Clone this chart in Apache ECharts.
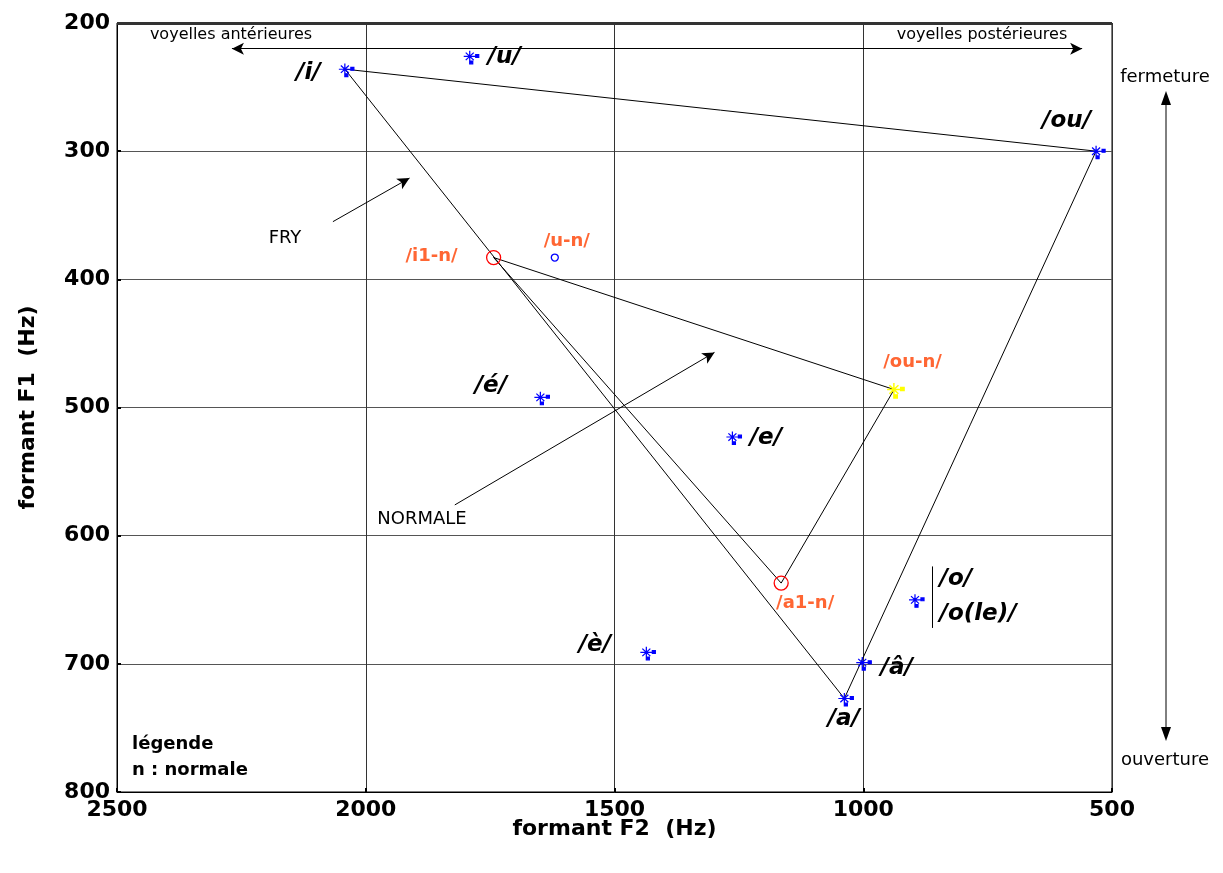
<!DOCTYPE html>
<html><head><meta charset="utf-8">
<script src="https://cdn.jsdelivr.net/npm/echarts@6/dist/echarts.min.js"></script>
<style>html,body{margin:0;padding:0;background:#fff}#c{width:1223px;height:873px}</style>
</head><body><div id="c"></div>
<script>
// ---- data ----
const fryNames = ['/i/', '/u/', '/ou/', '/é/', '/e/', '/è/', '/o/', '/â/', '/a/'];
const fryF2 = [2042, 1791, 532, 1649, 1263, 1436, 896, 1002, 1038];
const fryF1 = [236, 226, 300, 492, 523, 691, 650, 699, 727];
const normNames = ['/i1-n/', '/u-n/', '/ou-n/', '/a1-n/'];
const normF2 = [1743, 1620, 938, 1165];
const normF1 = [383, 383, 486, 637];
const fryTriangle = ['/i/', '/ou/', '/a/', '/i/'];
const normTriangle = ['/i1-n/', '/ou-n/', '/a1-n/', '/i1-n/'];
const xTicks = [500, 1000, 1500, 2000, 2500];
const yTicks = [200, 300, 400, 500, 600, 700, 800];

// ---- styles ----
const FONT = 'DejaVu Sans';
const ORANGE = '#ff6633';
const AST = 'path://M8,2L8,14M2,8L14,8M4,4L12,12M4,12L12,4M14,6h3v3h-3zM8,13h3v3h-3z';
const labelOffset = {
  '/i/': [-38, 3], '/u/': [33, 0], '/ou/': [-31, -31], '/é/': [-51, -12], '/e/': [32, 0],
  '/è/': [-53, -8], '/â/': [33, 4], '/a/': [-2, 20],
  '/i1-n/': [-62, -1], '/u-n/': [12, -16], '/ou-n/': [17, -28], '/a1-n/': [24, 20]
};
const noBorder = {textBorderWidth: 0, textBorderColor: 'rgba(0,0,0,0)', textShadowBlur: 0};
const normStyle = {
  '/i1-n/': {symbol: 'circle', symbolSize: 14, itemStyle: {opacity: 1, color: 'rgba(0,0,0,0)', borderColor: '#ff0000', borderWidth: 1.3}},
  '/u-n/': {symbol: 'circle', symbolSize: 7, itemStyle: {opacity: 1, color: 'rgba(0,0,0,0)', borderColor: '#0000ff', borderWidth: 1.3}},
  '/ou-n/': {symbol: AST, symbolSize: [17, 16], symbolOffset: [1.5, 1], itemStyle: {opacity: 1, color: '#ffff00', borderColor: '#ffff00', borderWidth: 1.4}},
  '/a1-n/': {symbol: 'circle', symbolSize: 14, itemStyle: {opacity: 1, color: 'rgba(0,0,0,0)', borderColor: '#ff0000', borderWidth: 1.3}}
};

const fryData = fryNames.map((n, i) => {
  const item = {name: n, value: [fryF2[i], fryF1[i]]};
  if (n === '/o/') {
    item.label = {formatter: '/o/\n/o(le)/', align: 'left', offset: [23, -4], lineHeight: 35};
  } else {
    item.label = {offset: labelOffset[n]};
  }
  return item;
});
const normData = normNames.map((n, i) => Object.assign({
  name: n, value: [normF2[i], normF1[i]], label: {offset: labelOffset[n]}
}, normStyle[n]));

function pt(name) {
  let i = fryNames.indexOf(name);
  if (i >= 0) return [fryF2[i], fryF1[i]];
  i = normNames.indexOf(name);
  return [normF2[i], normF1[i]];
}

const chart = echarts.init(document.getElementById('c'), null, {renderer: 'canvas'});
const txt = (x, y, text, size, weight, align) => ({
  type: 'text', x: x, y: y, silent: true,
  style: {text: text, fill: '#000', font: (weight || 'normal') + ' ' + size + 'px "' + FONT + '"',
    textAlign: align || 'center', textVerticalAlign: 'middle'}
});

chart.setOption({
  animation: false,
  backgroundColor: '#fff',
  grid: {left: 117, right: 111, top: 23, bottom: 81, show: true, borderColor: '#000', borderWidth: 1},
  xAxis: {
    type: 'value', inverse: true, min: xTicks[0], max: xTicks[xTicks.length - 1], interval: 500,
    name: 'formant F2  (Hz)', nameLocation: 'middle', nameGap: 26, nameMoveOverlap: false,
    nameTextStyle: {fontFamily: FONT, fontWeight: 'bold', fontSize: 22, color: '#000'},
    axisLine: {lineStyle: {color: '#000', width: 1}},
    axisTick: {inside: true, length: 4, lineStyle: {color: '#000', width: 2}},
    axisLabel: {fontFamily: FONT, fontWeight: 'bold', fontSize: 22, color: '#000', margin: 7,
      formatter: v => String(v)},
    splitLine: {lineStyle: {color: '#333', width: 1}}
  },
  yAxis: {
    type: 'value', inverse: true, min: yTicks[0], max: yTicks[yTicks.length - 1], interval: 100,
    name: 'formant F1  (Hz)', nameLocation: 'middle', nameGap: 78, nameMoveOverlap: false,
    nameTextStyle: {fontFamily: FONT, fontWeight: 'bold', fontSize: 22, color: '#000'},
    axisLine: {lineStyle: {color: '#000', width: 1}},
    axisTick: {inside: true, length: 4, lineStyle: {color: '#000', width: 2}},
    axisLabel: {fontFamily: FONT, fontWeight: 'bold', fontSize: 22, color: '#000', margin: 7,
      formatter: v => String(v)},
    splitLine: {lineStyle: {color: '#555', width: 1}}
  },
  series: [
    {
      type: 'line', name: 'FRY', data: fryTriangle.map(pt), symbol: 'none', z: 2,
      lineStyle: {color: '#000', width: 1},
      markLine: {
        silent: true, symbol: ['none', 'none'], symbolSize: [9, 12],
        label: {show: false},
        lineStyle: {color: '#000', width: 1, type: 'solid'},
        data: [
          [{xAxis: 2500, yAxis: 200, symbol: 'none', lineStyle: {width: 3, color: '#333'}}, {xAxis: 500, yAxis: 200, symbol: 'none'}],
          [{coord: [2066, 355], symbol: 'none'}, {coord: [1912, 321], symbol: 'arrow'}],
          [{coord: [1821, 576], symbol: 'none'}, {coord: [1299, 457], symbol: 'arrow'}],
          [{coord: [2269, 220], symbol: 'arrow'}, {coord: [560, 220], symbol: 'arrow'}],
          [{coord: [861, 624], symbol: 'none'}, {coord: [861, 672], symbol: 'none'}]
        ]
      }
    },
    {
      type: 'line', name: 'NORMALE', data: normTriangle.map(pt), symbol: 'none', z: 2,
      lineStyle: {color: '#000', width: 1}
    },
    {
      type: 'scatter', name: 'fry points', data: fryData, z: 5,
      symbol: AST, symbolSize: [15, 14], symbolOffset: [1.5, 1], symbolKeepAspect: true,
      itemStyle: {opacity: 1, color: '#0000ff', borderColor: '#0000ff', borderWidth: 1.2},
      label: Object.assign({show: true, position: 'inside', formatter: '{b}', color: '#000',
        fontFamily: FONT, fontWeight: 'bold', fontStyle: 'italic', fontSize: 23}, noBorder)
    },
    {
      type: 'scatter', name: 'normal points', data: normData, z: 5, symbolKeepAspect: true,
      itemStyle: {opacity: 1},
      label: Object.assign({show: true, position: 'inside', formatter: '{b}', color: ORANGE,
        fontFamily: FONT, fontWeight: 'bold', fontSize: 18}, noBorder)
    }
  ],
  graphic: [
    txt(231, 35, 'voyelles antérieures', 16),
    txt(982, 35, 'voyelles postérieures', 16),
    txt(285, 238, 'FRY', 18),
    txt(422, 519, 'NORMALE', 18),
    txt(132, 744, 'légende', 18, 'bold', 'left'),
    txt(132, 770, 'n : normale', 18, 'bold', 'left'),
    txt(1165, 77, 'fermeture', 18),
    txt(1165, 760, 'ouverture', 18),
    {type: 'line', silent: true, shape: {x1: 1166, y1: 100, x2: 1166, y2: 732}, style: {stroke: '#000', lineWidth: 1}},
    {type: 'polygon', silent: true, shape: {points: [[1166, 91], [1161, 105], [1171, 105]]}, style: {fill: '#000'}},
    {type: 'polygon', silent: true, shape: {points: [[1166, 741], [1161, 727], [1171, 727]]}, style: {fill: '#000'}}
  ]
});
</script>
</body></html>
